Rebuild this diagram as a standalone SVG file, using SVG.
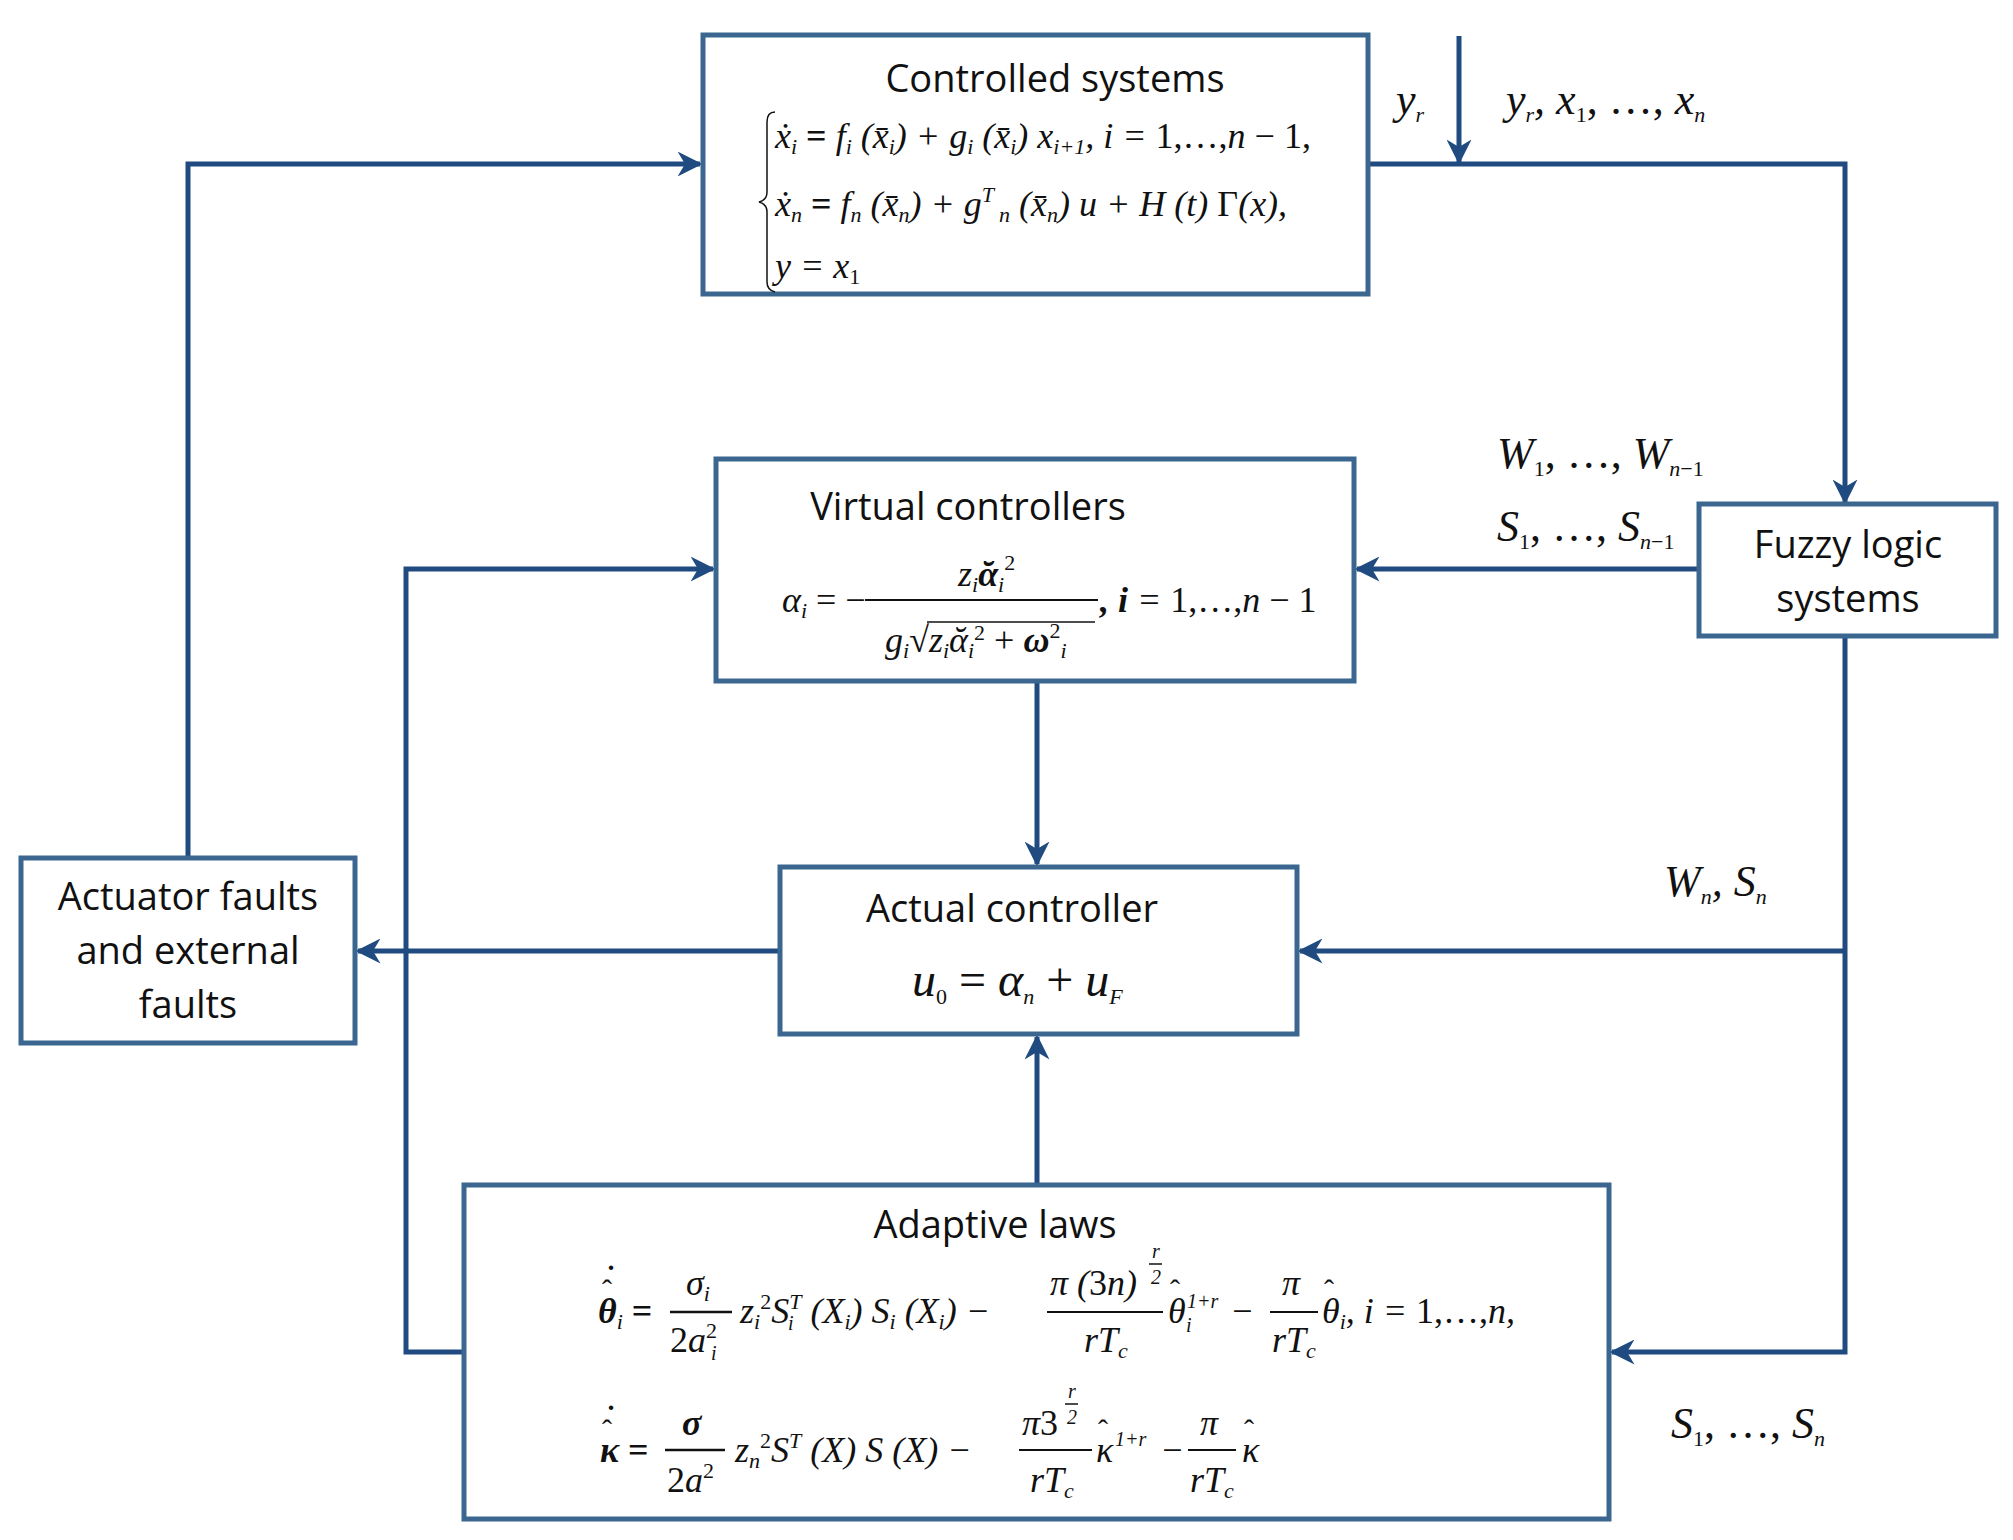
<svg xmlns="http://www.w3.org/2000/svg" width="2013" height="1540" viewBox="0 0 2013 1540">
<style>
.box{fill:#fff;stroke:#3a6690;stroke-width:5}
.ln{fill:none;stroke:#1f4b80;stroke-width:5}
.t{font-family:"Open Sans","Liberation Sans",sans-serif;font-size:38px;fill:#111;text-anchor:middle}
.m{font-family:"Liberation Serif",serif;font-style:italic;font-size:36px;fill:#111}
.l{font-family:"Liberation Serif",serif;font-style:italic;font-size:44px;fill:#111}
.s{font-size:22px}
.sm{font-family:"Liberation Serif",serif;font-style:italic;font-size:20px;fill:#111}
.hat{font-family:"Liberation Serif",serif;font-size:30px;fill:#111}
</style>
<defs>
<marker id="a" viewBox="0 0 10 10" refX="9" refY="5" markerWidth="5" markerHeight="5" orient="auto" markerUnits="strokeWidth">
<path d="M0,0 L10,5 L0,10 L3,5 z" fill="#1f4b80"/>
</marker>
</defs>
<g id="connectors">
<path class="ln" d="M188,858 V164 H700" marker-end="url(#a)"/>
<path class="ln" d="M1368,164 H1845 V502" marker-end="url(#a)"/>
<path class="ln" d="M1459,36 V162" marker-end="url(#a)"/>
<path class="ln" d="M1699,569 H1357" marker-end="url(#a)"/>
<path class="ln" d="M1037,681 V864" marker-end="url(#a)"/>
<path class="ln" d="M1845,636 V1352 H1612" marker-end="url(#a)"/>
<path class="ln" d="M1845,951 H1300" marker-end="url(#a)"/>
<path class="ln" d="M780,951 H358" marker-end="url(#a)"/>
<path class="ln" d="M464,1352 H406 V569 H713" marker-end="url(#a)"/>
<path class="ln" d="M1037,1185 V1037" marker-end="url(#a)"/>
</g>
<g id="controlled">
<rect class="box" x="703" y="35" width="665" height="259"/>
<text class="t" x="1055" y="92">Controlled systems</text>
<path d="M775,112 q-8,0 -8,10 v70 q0,8 -8,10 q8,2 8,10 v70 q0,8 8,10" fill="none" stroke="#111" stroke-width="1.5"/>
<text class="m" x="775" y="148">ẋ<tspan class="s" dy="6">i</tspan><tspan dy="-6" font-style="normal" font-weight="bold"> = </tspan>f<tspan class="s" dy="6">i</tspan><tspan dy="-6"> (x̄</tspan><tspan class="s" dy="6">i</tspan><tspan dy="-6">) + g</tspan><tspan class="s" dy="6">i</tspan><tspan dy="-6"> (x̄</tspan><tspan class="s" dy="6">i</tspan><tspan dy="-6">) x</tspan><tspan class="s" dy="6">i+1</tspan><tspan dy="-6">, i = </tspan><tspan font-style="normal">1,…,</tspan>n <tspan font-style="normal">− 1,</tspan></text>
<text class="m" x="775" y="216">ẋ<tspan class="s" dy="6">n</tspan><tspan dy="-6" font-style="normal" font-weight="bold"> = </tspan>f<tspan class="s" dy="6">n</tspan><tspan dy="-6"> (x̄</tspan><tspan class="s" dy="6">n</tspan><tspan dy="-6">) + g</tspan><tspan class="s" dy="-14">T</tspan><tspan class="s" dy="20"> n</tspan><tspan dy="-6"> (x̄</tspan><tspan class="s" dy="6">n</tspan><tspan dy="-6">) u + H (t) </tspan><tspan font-style="normal">Γ</tspan>(x),</text>
<text class="m" x="775" y="278">y = x<tspan class="s" dy="6" font-style="normal">1</tspan></text>
</g>
<g id="virtual">
<rect class="box" x="716" y="459" width="638" height="222"/>
<text class="t" x="968" y="520">Virtual controllers</text>
<text class="m" x="782" y="612">α<tspan class="s" dy="6">i</tspan><tspan dy="-6" font-style="normal"> = −</tspan></text>
<line x1="865" y1="600" x2="1098" y2="600" stroke="#111" stroke-width="2"/>
<text class="m" x="958" y="586">z<tspan class="s" dy="6">i</tspan><tspan dy="-6" font-weight="bold">ᾰ</tspan><tspan class="s" dy="6">i</tspan><tspan class="s" dy="-22" font-style="normal">2</tspan></text>
<text class="m" x="885" y="652">g<tspan class="s" dy="6">i</tspan><tspan dy="-6" font-style="normal">√</tspan>z<tspan class="s" dy="6">i</tspan><tspan dy="-6">ᾰ</tspan><tspan class="s" dy="6">i</tspan><tspan class="s" dy="-18" font-style="normal">2</tspan><tspan dy="12" font-style="normal"> + </tspan><tspan font-weight="bold">ω</tspan><tspan class="s" dy="-14" font-style="normal">2</tspan><tspan class="s" dy="20">i</tspan></text>
<line x1="927" y1="622" x2="1095" y2="622" stroke="#111" stroke-width="1.5"/>
<text class="m" x="1100" y="612"><tspan font-weight="bold">, i</tspan> = <tspan font-style="normal">1,…,</tspan>n <tspan font-style="normal">− 1</tspan></text>
</g>
<g id="fuzzy">
<rect class="box" x="1699" y="504" width="297" height="132"/>
<text class="t" x="1848" y="558">Fuzzy logic</text>
<text class="t" x="1848" y="612">systems</text>
</g>
<g id="actual">
<rect class="box" x="780" y="867" width="517" height="167"/>
<text class="t" x="1012" y="922">Actual controller</text>
<text class="m" x="912" y="996" style="font-size:48px">u<tspan class="s" dy="8" font-style="normal">0</tspan><tspan dy="-8" font-style="normal"> = </tspan>α<tspan class="s" dy="8">n</tspan><tspan dy="-8" font-style="normal"> + </tspan>u<tspan class="s" dy="8">F</tspan></text>
</g>
<g id="actuator">
<rect class="box" x="21" y="858" width="334" height="185"/>
<text class="t" x="188" y="910">Actuator faults</text>
<text class="t" x="188" y="964">and external</text>
<text class="t" x="188" y="1018">faults</text>
</g>
<g id="adaptive">
<rect class="box" x="464" y="1185" width="1145" height="334"/>
<text class="t" x="995" y="1238">Adaptive laws</text>
<!-- equation 1 -->
<text class="m" x="598" y="1323" font-weight="bold">θ<tspan class="s" dy="6" font-weight="normal">i</tspan><tspan dy="-6" font-style="normal"> =</tspan></text>
<text class="hat" x="602" y="1300">ˆ</text>
<text class="hat" x="606" y="1286" font-weight="bold">˙</text>
<line x1="670" y1="1312" x2="732" y2="1312" stroke="#111" stroke-width="2.5"/>
<text class="m" x="686" y="1295">σ<tspan class="s" dy="6">i</tspan></text>
<text class="m" x="670" y="1352"><tspan font-style="normal">2</tspan>a<tspan class="s" dy="-14" font-style="normal">2</tspan></text>
<text class="sm" x="711" y="1360">i</text>
<text class="m" x="740" y="1323">z<tspan class="s" dy="6">i</tspan><tspan class="s" dy="-20" font-style="normal">2</tspan><tspan dy="14">S</tspan><tspan class="s" dy="-14">T</tspan><tspan dy="14"> (X</tspan><tspan class="s" dy="6">i</tspan><tspan dy="-6">) S</tspan><tspan class="s" dy="6">i</tspan><tspan dy="-6"> (X</tspan><tspan class="s" dy="6">i</tspan><tspan dy="-6">) −</tspan></text>
<text class="sm" x="788" y="1330">i</text>
<line x1="1047" y1="1312" x2="1163" y2="1312" stroke="#111" stroke-width="2"/>
<text class="m" x="1050" y="1295">π (<tspan font-style="normal">3</tspan>n)</text>
<text class="sm" x="1152" y="1258">r</text>
<line x1="1149" y1="1264" x2="1162" y2="1264" stroke="#111" stroke-width="1.5"/>
<text class="sm" x="1151" y="1284" font-style="normal">2</text>
<text class="m" x="1084" y="1352">rT<tspan class="s" dy="6">c</tspan></text>
<text class="m" x="1168" y="1323">θ</text>
<text class="hat" x="1170" y="1300">ˆ</text>
<text class="sm" x="1187" y="1308" font-style="normal">1+<tspan font-style="italic">r</tspan></text>
<text class="sm" x="1186" y="1332">i</text>
<text class="m" x="1230" y="1323" font-style="normal">−</text>
<line x1="1270" y1="1312" x2="1318" y2="1312" stroke="#111" stroke-width="2"/>
<text class="m" x="1282" y="1295">π</text>
<text class="m" x="1272" y="1352">rT<tspan class="s" dy="6">c</tspan></text>
<text class="m" x="1322" y="1323">θ<tspan class="s" dy="6">i</tspan><tspan dy="-6">, i = </tspan><tspan font-style="normal">1,…,</tspan>n,</text>
<text class="hat" x="1324" y="1300">ˆ</text>
<!-- equation 2 -->
<text class="m" x="600" y="1462" font-weight="bold">κ<tspan font-style="normal"> =</tspan></text>
<text class="hat" x="602" y="1440">ˆ</text>
<text class="hat" x="606" y="1426" font-weight="bold">˙</text>
<line x1="665" y1="1450" x2="725" y2="1450" stroke="#111" stroke-width="2.5"/>
<text class="m" x="682" y="1435" font-weight="bold" font-style="normal">σ</text>
<text class="m" x="667" y="1492"><tspan font-style="normal">2</tspan>a<tspan class="s" dy="-14" font-style="normal">2</tspan></text>
<text class="m" x="735" y="1462">z<tspan class="s" dy="6">n</tspan><tspan class="s" dy="-20" font-style="normal">2</tspan><tspan dy="14">S</tspan><tspan class="s" dy="-14">T</tspan><tspan dy="14"> (X) S (X) −</tspan></text>
<line x1="1019" y1="1450" x2="1092" y2="1450" stroke="#111" stroke-width="2"/>
<text class="m" x="1022" y="1435">π<tspan font-style="normal">3</tspan></text>
<text class="sm" x="1068" y="1398">r</text>
<line x1="1065" y1="1404" x2="1078" y2="1404" stroke="#111" stroke-width="1.5"/>
<text class="sm" x="1067" y="1424" font-style="normal">2</text>
<text class="m" x="1030" y="1492">rT<tspan class="s" dy="6">c</tspan></text>
<text class="m" x="1096" y="1462">κ</text>
<text class="hat" x="1098" y="1440">ˆ</text>
<text class="sm" x="1115" y="1446" font-style="normal">1+<tspan font-style="italic">r</tspan></text>
<text class="m" x="1160" y="1462" font-style="normal">−</text>
<line x1="1188" y1="1450" x2="1236" y2="1450" stroke="#111" stroke-width="2"/>
<text class="m" x="1200" y="1435">π</text>
<text class="m" x="1190" y="1492">rT<tspan class="s" dy="6">c</tspan></text>
<text class="m" x="1242" y="1462">κ</text>
<text class="hat" x="1244" y="1440">ˆ</text>
</g>
<g id="labels">
<text class="l" x="1396" y="114">y<tspan class="s" dy="8">r</tspan></text>
<text class="l" x="1506" y="114">y<tspan class="s" dy="8">r</tspan><tspan dy="-8">, x</tspan><tspan class="s" dy="8" font-style="normal">1</tspan><tspan dy="-8" font-style="normal">, …, </tspan>x<tspan class="s" dy="8">n</tspan></text>
<text class="l" x="1497" y="468">W<tspan class="s" dy="8" font-style="normal">1</tspan><tspan dy="-8" font-style="normal">, …, </tspan>W<tspan class="s" dy="8">n</tspan><tspan class="s" font-style="normal">−1</tspan></text>
<text class="l" x="1497" y="541">S<tspan class="s" dy="8" font-style="normal">1</tspan><tspan dy="-8" font-style="normal">, …, </tspan>S<tspan class="s" dy="8">n</tspan><tspan class="s" font-style="normal">−1</tspan></text>
<text class="l" x="1664" y="896">W<tspan class="s" dy="8">n</tspan><tspan dy="-8">, S</tspan><tspan class="s" dy="8">n</tspan></text>
<text class="l" x="1671" y="1438">S<tspan class="s" dy="8" font-style="normal">1</tspan><tspan dy="-8" font-style="normal">, …, </tspan>S<tspan class="s" dy="8">n</tspan></text>
</g>
</svg>
